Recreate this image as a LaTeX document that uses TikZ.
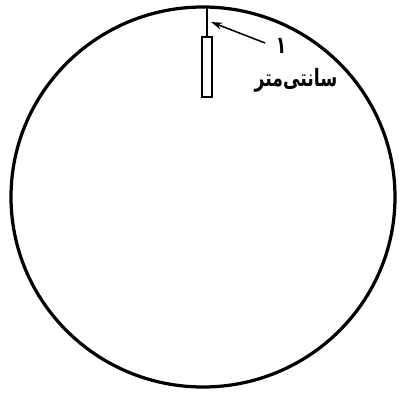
\documentclass[tikz,border=0pt]{standalone}
\usepackage{fontspec}
\newfontfamily\arabicfont[Script=Arabic]{DejaVu Sans}
\TeXXeTstate=1
\usetikzlibrary{arrows.meta}
\begin{document}
\begin{tikzpicture}[x=0.025cm, y=-0.025cm,
    rod/.style={draw, line width=1.5pt, minimum width=0.24cm, minimum height=1.5cm, inner sep=0pt},
    farsi/.style={font=\arabicfont\bfseries\fontsize{17}{20}\selectfont, inner sep=0pt,
        xscale=0.72, transform shape}]
    \useasboundingbox (0, 0) rectangle (406, 393);

    % دایره
    \draw[line width=2.3pt] (203, 197) ellipse [x radius=192, y radius=190];

    % میله و فاصله
    \coordinate (top) at (207, 6);
    \coordinate (mark) at (211, 22);
    \node[rod] (bar) at (207, 67) {};
    \draw[line width=1.1pt] (top) -- (bar.north);

    % برچسب‌ها
    \node[farsi] (one) at (281, 46) {\beginR ۱\endR};
    \node[farsi] (unit) at (296, 80) {\beginR سانتی‌متر\endR};
    \draw[-{Stealth[length=8pt, width=5pt]}, line width=1.1pt] (265, 43) -- (mark);

\end{tikzpicture}
\end{document}
